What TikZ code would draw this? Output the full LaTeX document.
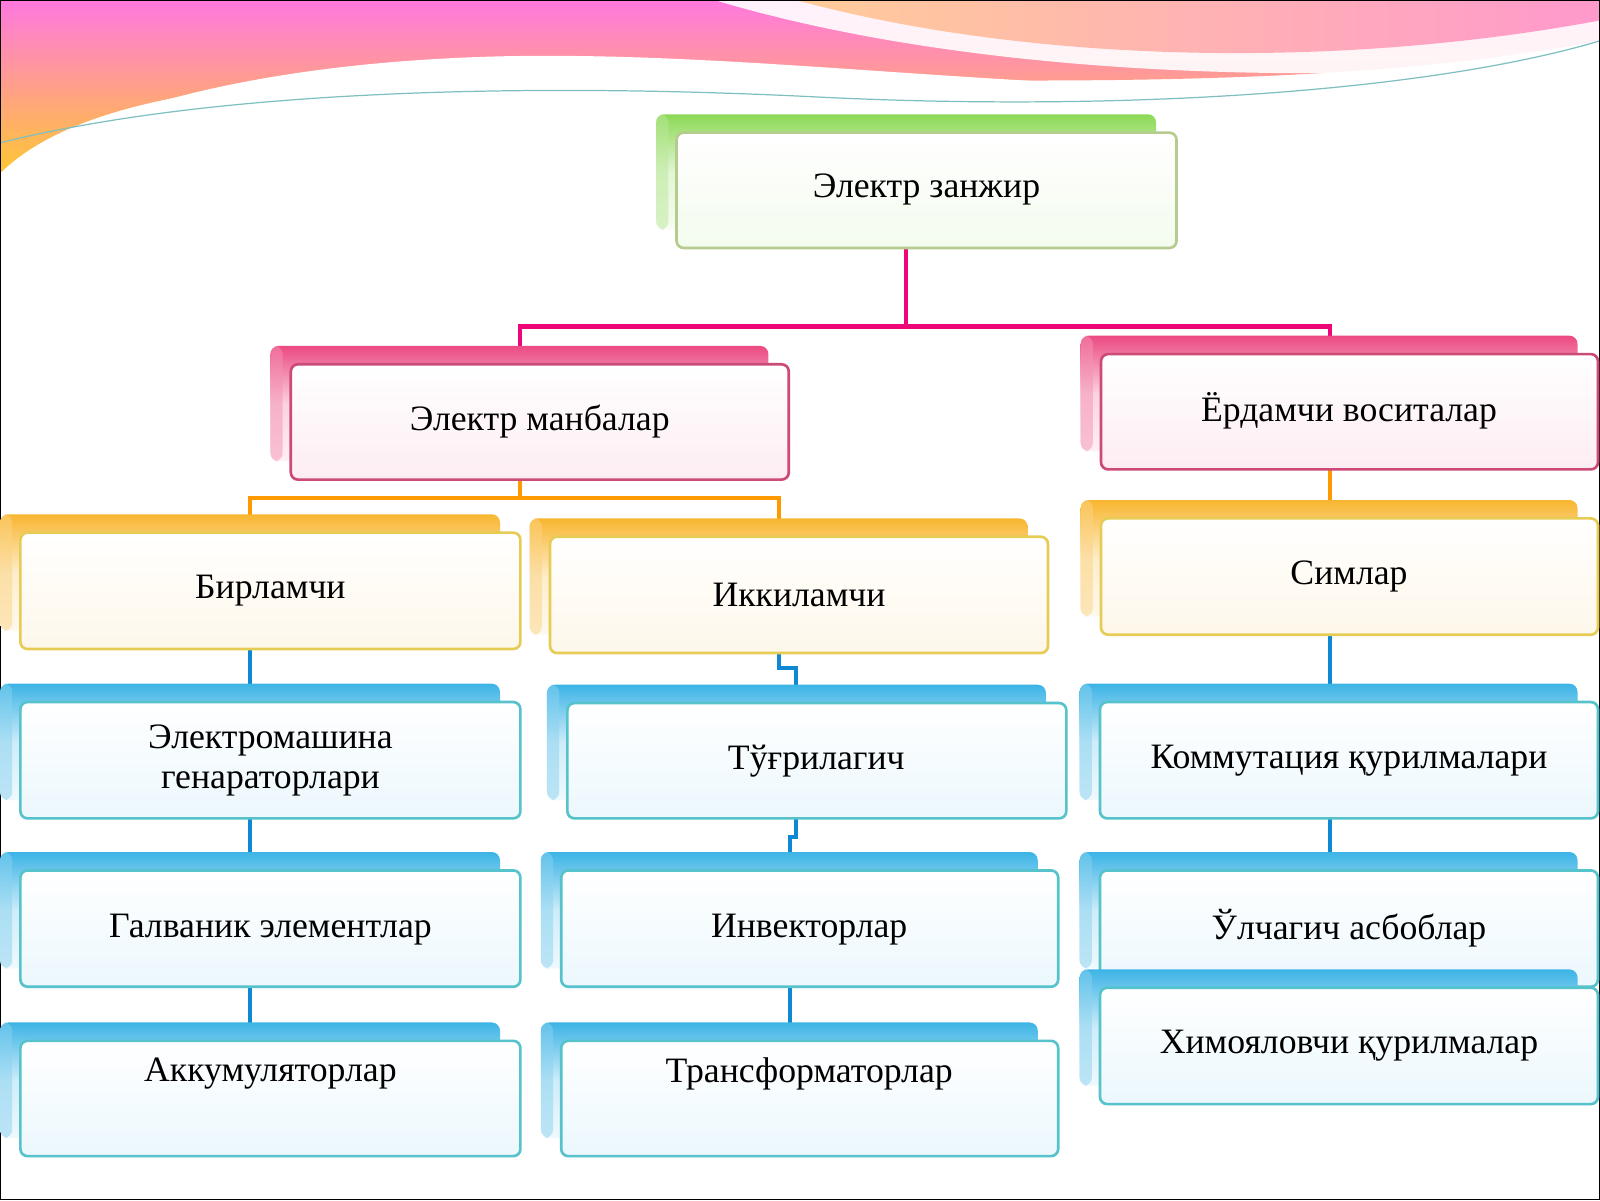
\documentclass[tikz,border=0pt]{standalone}
\usepackage{fontspec}
\setmainfont{Liberation Serif}
\begin{document}
\begin{tikzpicture}[x=1pt,y=-1pt,
  cn/.style={line width=4pt},
  lbl/.style={font=\fontsize{35}{39}\selectfont, align=center}]
\useasboundingbox (0,0) rectangle (1568,1176);
\fill[white] (0,0) rectangle (1568,1176);
% background waves
\shade[top color=magenta!45!pink!90, bottom color=orange!55!yellow!80] (0,0) -- (1568,0) -- (1568,40) .. controls (1200,110) and (700,60) .. (300,80) .. controls (150,90) and (50,120) .. (0,170) -- cycle;
\fill[white,opacity=0.9] (700,0) .. controls (900,60) and (1200,90) .. (1568,60) -- (1568,0) -- cycle;
\shade[left color=orange!40, right color=pink!80!magenta] (780,0) .. controls (1000,60) and (1300,70) .. (1568,20) -- (1568,0) -- cycle;
\fill[white] (0,170) .. controls (80,110) and (250,60) .. (500,55) .. controls (800,50) and (1100,110) .. (1568,80) -- (1568,1176) -- (0,1176) -- cycle;
\draw[teal!50, line width=1.2pt] (0,140) .. controls (200,90) and (500,80) .. (800,95) .. controls (1100,110) and (1400,90) .. (1568,40);
\draw[black, line width=1pt] (0.5,0.5) rectangle (1567.5,1175.5);
% connectors
\coordinate (m1) at (888,320); \coordinate (m2) at (510,320); \coordinate (m3) at (1303,320);
\coordinate (o1) at (510,488); \coordinate (o2) at (245,488); \coordinate (o3) at (763,488);
\draw[cn, draw=magenta!80!red] (888,243) -- (m1) -- (m2) -- (510,357);
\draw[cn, draw=magenta!80!red] (m1) -- (m3) -- (1303,347);
\draw[cn, draw=orange!80!yellow] (510,470) -- (o1) -- (o2) -- (245,522);
\draw[cn, draw=orange!80!yellow] (o1) -- (o3) -- (763,526);
\draw[cn, draw=orange!80!yellow] (1303,460) -- (1303,508);
\draw[cn, draw=cyan!70!blue] (245,636) -- (245,688);
\draw[cn, draw=cyan!70!blue] (245,802) -- (245,853);
\draw[cn, draw=cyan!70!blue] (245,967) -- (245,1020);
\draw[cn, draw=cyan!70!blue] (763,640) -- (763,655) -- (780,655) -- (780,689);
\draw[cn, draw=cyan!70!blue] (780,802) -- (780,820) -- (774,820) -- (774,853);
\draw[cn, draw=cyan!70!blue] (774,967) -- (774,1020);
\draw[cn, draw=cyan!70!blue] (1303,622) -- (1303,688);
\draw[cn, draw=cyan!70!blue] (1303,802) -- (1303,853);
% boxes
\newcommand{\bx}[8]{%
  \shade[rounded corners=8pt, top color=#6, bottom color=#6!8, middle color=#6!25] (#2-20,#3-18) rectangle (#4-20,#5-18);
  \fill[#6!60, rounded corners=8pt, opacity=0.5] (#2-20,#3-18) rectangle (#2-8,#5-18);
  \node[lbl, draw=#7, line width=2.6pt, rounded corners=7pt, top color=white, bottom color=#6!10,
    minimum width={(#4)-(#2)}, minimum height={(#5)-(#3)}, #8] (#1) at ({((#2)+(#4))/2},{((#3)+(#5))/2}) {};}
\definecolor{gr}{HTML}{8CD955}\definecolor{grb}{HTML}{B5CC8E}
\definecolor{pk}{HTML}{EC4A82}\definecolor{pkb}{HTML}{CC4A78}
\definecolor{or}{HTML}{F8B630}\definecolor{orb}{HTML}{E6CC55}
\definecolor{bl}{HTML}{3CB4E6}\definecolor{blb}{HTML}{55C2CC}
\bx{a}{663}{130}{1153}{243}{gr}{grb}{}
\bx{b}{285}{357}{773}{470}{pk}{pkb}{}
\bx{c}{1079}{347}{1566}{460}{pk}{pkb}{}
\bx{d}{20}{522}{510}{636}{or}{orb}{}
\bx{e}{539}{526}{1027}{640}{or}{orb}{}
\bx{f}{1079}{508}{1566}{622}{or}{orb}{}
\bx{g}{20}{688}{510}{802}{bl}{blb}{}
\bx{h}{556}{689}{1045}{802}{bl}{blb}{}
\bx{i}{1078}{688}{1566}{802}{bl}{blb}{}
\bx{j}{20}{853}{510}{967}{bl}{blb}{}
\bx{k}{550}{853}{1037}{967}{bl}{blb}{}
\bx{l}{1078}{853}{1566}{967}{bl}{blb}{}
\bx{m}{1078}{968}{1566}{1082}{bl}{blb}{}
\bx{n}{20}{1020}{510}{1133}{bl}{blb}{}
\bx{o}{550}{1020}{1037}{1133}{bl}{blb}{}
% texts
\node[lbl] at (908,186) {Электр занжир};
\node[lbl] at (529,413) {Электр манбалар};
\node[lbl] at (1322,403) {Ёрдамчи воситалар};
\node[lbl] at (265,579) {Бирламчи};
\node[lbl] at (783,583) {Иккиламчи};
\node[lbl] at (1322,565) {Симлар};
\node[lbl] at (265,745) {Электромашина\\генараторлари};
\node[lbl] at (800,746) {Тўғрилагич};
\node[lbl] at (1322,745) {Коммутация қурилмалари};
\node[lbl] at (265,911) {Галваник элементлар};
\node[lbl] at (793,911) {Инвекторлар};
\node[lbl] at (1322,910) {Ўлчагич асбоблар};
\node[lbl] at (1322,1025) {Химояловчи қурилмалар};
\node[lbl] at (265,1052) {Аккумуляторлар};
\node[lbl] at (793,1052) {Трансформаторлар};
\end{tikzpicture}
\end{document}
